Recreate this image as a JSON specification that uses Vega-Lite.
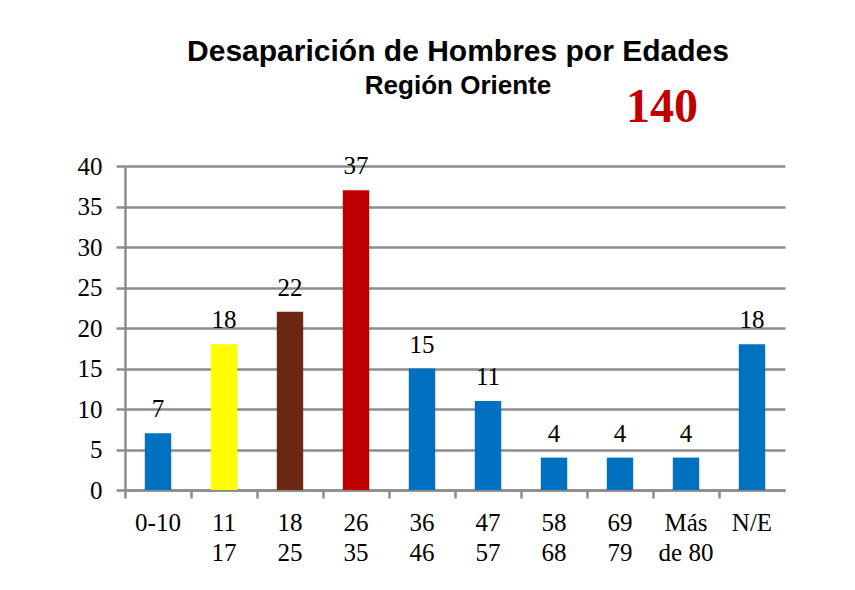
{
  "$schema": "https://vega.github.io/schema/vega-lite/v6.json",
  "autosize": "none",
  "width": 660,
  "height": 324,
  "padding": {"left": 125, "top": 166, "right": 70, "bottom": 100},
  "background": "white",
  "config": {"view": {"stroke": null}, "font": "Times New Roman"},
  "title": {
    "text": "Desaparición de Hombres por Edades",
    "subtitle": "Región Oriente",
    "font": "Liberation Sans",
    "fontSize": 30,
    "fontWeight": "bold",
    "color": "black",
    "subtitleFont": "Liberation Sans",
    "subtitleFontSize": 26,
    "subtitleFontWeight": "bold",
    "subtitleColor": "black",
    "subtitlePadding": 6,
    "anchor": "middle",
    "dx": 3,
    "offset": -15
  },
  "data": {
    "values": [
      {"edad": "0-10", "casos": 7},
      {"edad": "11\n17", "casos": 18},
      {"edad": "18\n25", "casos": 22},
      {"edad": "26\n35", "casos": 37},
      {"edad": "36\n46", "casos": 15},
      {"edad": "47\n57", "casos": 11},
      {"edad": "58\n68", "casos": 4},
      {"edad": "69\n79", "casos": 4},
      {"edad": "Más\nde 80", "casos": 4},
      {"edad": "N/E", "casos": 18}
    ]
  },
  "encoding": {
    "x": {
      "field": "edad",
      "type": "nominal",
      "sort": null,
      "scale": {"paddingInner": 0, "paddingOuter": 0},
      "axis": {
        "title": null,
        "bandPosition": 0,
        "labelAngle": 0,
        "labelExpr": "split(datum.label, '\\n')",
        "labelFont": "Times New Roman",
        "labelFontSize": 25,
        "labelColor": "black",
        "labelLineHeight": 30,
        "labelPadding": 12,
        "labelBaseline": "top",
        "domainColor": "#8c8c8c",
        "domainWidth": 2.5,
        "tickColor": "#8c8c8c",
        "tickWidth": 2.5,
        "tickSize": 8,
        "grid": false
      }
    }
  },
  "layer": [
    {
      "mark": {"type": "bar", "width": {"band": 0.4}},
      "encoding": {
        "y": {
          "field": "casos",
          "type": "quantitative",
          "scale": {"domain": [0, 40]},
          "axis": {
            "title": null,
            "values": [0, 5, 10, 15, 20, 25, 30, 35, 40],
            "labelFont": "Times New Roman",
            "labelFontSize": 25,
            "labelColor": "black",
            "labelPadding": 14,
            "tickSize": 9,
            "tickColor": "#8c8c8c",
            "tickWidth": 2.5,
            "domainColor": "#8c8c8c",
            "domainWidth": 2.5,
            "grid": true,
            "gridColor": "#8c8c8c",
            "gridWidth": 2.5
          }
        },
        "color": {
          "field": "edad",
          "type": "nominal",
          "legend": null,
          "scale": {
            "domain": ["0-10", "11\n17", "18\n25", "26\n35", "36\n46", "47\n57", "58\n68", "69\n79", "Más\nde 80", "N/E"],
            "range": ["#0070C0", "#FFFF00", "#6B2710", "#C00000", "#0070C0", "#0070C0", "#0070C0", "#0070C0", "#0070C0", "#0070C0"]
          }
        }
      }
    },
    {
      "mark": {"type": "text", "font": "Times New Roman", "fontSize": 25, "color": "black", "baseline": "alphabetic", "dy": -16},
      "encoding": {
        "y": {"field": "casos", "type": "quantitative"},
        "text": {"field": "casos", "type": "quantitative"}
      }
    },
    {
      "transform": [{"aggregate": [{"op": "sum", "field": "casos", "as": "total"}]}],
      "mark": {"type": "text", "font": "Times New Roman", "fontSize": 48, "fontWeight": "bold", "color": "#C00000", "baseline": "middle", "dx": -24},
      "encoding": {
        "x": {"datum": "Más\nde 80", "type": "nominal"},
        "y": {"datum": 47.2, "type": "quantitative"},
        "text": {"field": "total", "type": "quantitative"}
      }
    }
  ]
}
